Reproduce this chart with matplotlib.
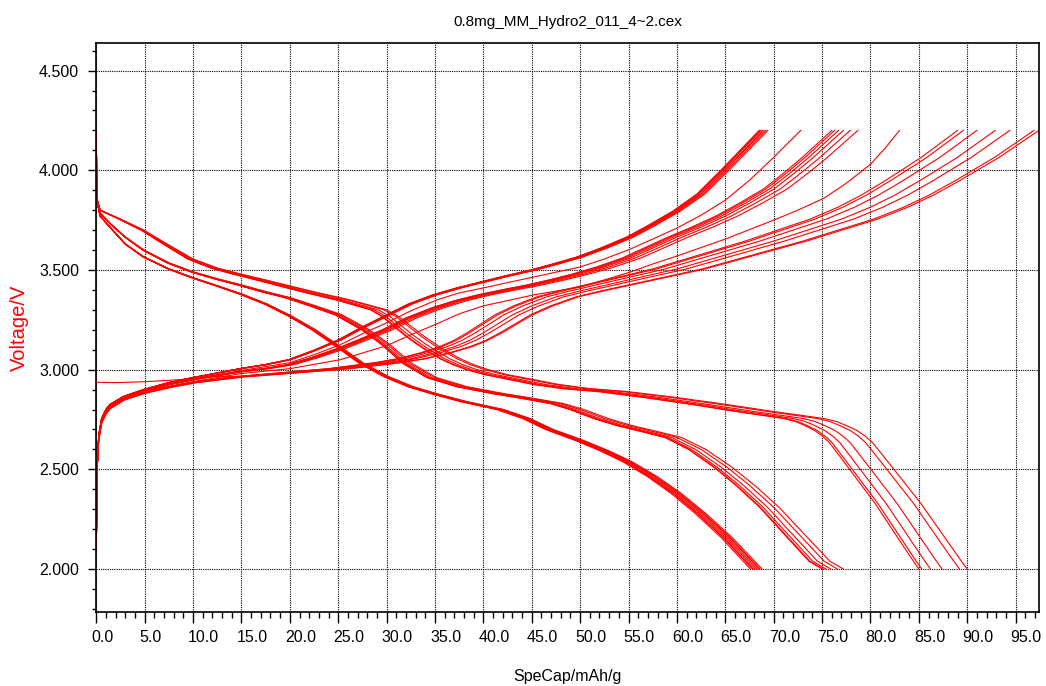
import numpy as np
import matplotlib
matplotlib.use('Agg')
import matplotlib.pyplot as plt
import matplotlib.transforms as mtransforms
from matplotlib.ticker import MultipleLocator, FormatStrFormatter

plt.rcParams['font.family'] = ['Liberation Sans', 'DejaVu Sans']

title = '0.8mg_MM_Hydro2_011_4~2.cex'
xticks = [0, 5, 10, 15, 20, 25, 30, 35, 40, 45, 50, 55, 60, 65, 70, 75, 80, 85, 90, 95]
yticks = [2.0, 2.5, 3.0, 3.5, 4.0, 4.5]

# discharge, slow rate group: shape of the last cycle, then end capacity of every cycle
dis_slow_cap = [0.0, 0.05, 0.4, 2.5, 4.9, 7.5, 10.0, 12.5, 14.9, 17.5, 20.0, 23.0, 26.2, 28.5, 30.0,
                31.3, 32.6, 33.8, 35.0, 36.3, 37.6, 39.0, 40.5, 42.5, 45.2, 47.9, 51.0, 54.9, 60.0,
                65.2, 70.0, 73.0, 75.2, 76.5, 77.5, 78.6, 79.5, 80.2, 81.2, 82.1, 85.2, 89.1, 90.0]
dis_slow_volt = [4.19, 3.86, 3.80, 3.755, 3.70, 3.625, 3.555, 3.51, 3.48, 3.45, 3.42, 3.385, 3.35, 3.32, 3.30,
                 3.265, 3.215, 3.17, 3.13, 3.09, 3.055, 3.025, 3.00, 2.975, 2.95, 2.925, 2.905, 2.89, 2.86,
                 2.825, 2.79, 2.77, 2.755, 2.74, 2.72, 2.695, 2.665, 2.635, 2.575, 2.52, 2.33, 2.06, 2.00]
dis_slow_ends = [85.0, 85.3, 86.2, 87.4, 89.2, 90.0]

# discharge, middle rate group
dis_mid_cap = [0.0, 0.05, 0.4, 1.5, 3.0, 4.9, 7.5, 10.0, 12.5, 14.9, 17.5, 20.0, 22.5, 25.2, 28.0,
               30.0, 32.4, 34.9, 38.0, 41.8, 45.0, 47.9, 50.0, 52.5, 54.9, 57.5, 60.0, 62.5, 65.2,
               67.5, 70.0, 72.5, 75.2, 76.6]
dis_mid_volt = [4.19, 3.85, 3.785, 3.73, 3.665, 3.60, 3.535, 3.49, 3.455, 3.425, 3.39, 3.36, 3.32, 3.275, 3.20,
                3.13, 3.03, 2.96, 2.915, 2.88, 2.855, 2.83, 2.80, 2.755, 2.72, 2.69, 2.66, 2.60, 2.51,
                2.42, 2.31, 2.18, 2.04, 2.00]
dis_mid_ends = [75.0, 75.1, 75.4, 75.9, 76.6, 77.2]

# discharge, fast rate group
dis_fast_cap = [0.0, 0.05, 0.4, 1.5, 3.0, 4.9, 7.5, 10.0, 12.5, 14.9, 17.5, 20.0, 22.5, 25.2, 27.5,
                30.0, 32.5, 34.9, 38.0, 41.8, 44.5, 46.9, 50.0, 52.5, 54.9, 57.5, 60.0, 62.5, 65.2, 68.3]
dis_fast_volt = [4.19, 3.85, 3.77, 3.71, 3.63, 3.565, 3.505, 3.46, 3.42, 3.38, 3.33, 3.27, 3.20, 3.11, 3.03,
                 2.965, 2.915, 2.88, 2.84, 2.80, 2.755, 2.70, 2.645, 2.595, 2.54, 2.465, 2.38, 2.28, 2.16, 2.00]
dis_fast_ends = [67.6, 67.8, 67.9, 68.1, 68.3, 68.5, 68.6, 68.8]

# charge, fast rate group
chg_fast_cap = [0.0, 0.08, 0.25, 0.55, 1.0, 1.4, 2.8, 4.9, 7.5, 10.0, 14.9, 17.5, 20.0, 22.5, 25.2,
                27.5, 30.0, 32.5, 35.0, 37.5, 40.0, 42.5, 45.2, 47.5, 50.0, 52.5, 55.2, 57.5, 60.0,
                62.5, 65.0, 67.0, 69.0]
chg_fast_volt = [2.10, 2.50, 2.67, 2.755, 2.80, 2.825, 2.865, 2.90, 2.935, 2.96, 3.005, 3.025, 3.05, 3.095, 3.15,
                 3.21, 3.27, 3.33, 3.375, 3.41, 3.44, 3.47, 3.50, 3.53, 3.565, 3.61, 3.665, 3.725, 3.795,
                 3.88, 4.00, 4.10, 4.20]
chg_fast_ends = [68.5, 68.6, 68.7, 68.9, 69.0, 69.2, 69.4]

# charge, middle rate group
chg_mid_cap = [0.0, 0.08, 0.25, 0.55, 1.0, 1.4, 2.8, 4.9, 7.5, 10.0, 14.9, 17.5, 20.0, 22.5, 25.2,
               27.5, 30.0, 32.5, 35.2, 37.5, 40.0, 42.5, 45.2, 47.5, 50.0, 52.5, 55.2, 57.5, 60.0,
               62.5, 65.0, 67.5, 70.0, 72.0, 74.0, 77.2]
chg_mid_volt = [2.10, 2.50, 2.66, 2.745, 2.79, 2.815, 2.858, 2.893, 2.925, 2.95, 2.99, 3.005, 3.025, 3.06, 3.105,
                3.15, 3.20, 3.26, 3.31, 3.345, 3.375, 3.40, 3.425, 3.45, 3.48, 3.515, 3.56, 3.61, 3.665,
                3.715, 3.77, 3.835, 3.905, 3.98, 4.06, 4.20]
chg_mid_ends = [76.0, 76.3, 76.7, 77.2, 77.9, 78.7]

# charge, slow rate group
chg_slow_cap = [0.0, 0.08, 0.25, 0.55, 1.0, 1.4, 2.8, 4.9, 7.5, 10.0, 14.9, 20.0, 25.0, 30.0, 32.5,
                35.0, 37.0, 38.5, 40.0, 41.5, 43.0, 45.0, 47.5, 50.0, 55.0, 60.0, 65.0, 70.0, 73.5,
                77.0, 80.0, 82.5, 85.0, 89.0, 92.9]
chg_slow_volt = [2.10, 2.50, 2.65, 2.735, 2.78, 2.805, 2.848, 2.882, 2.912, 2.935, 2.965, 2.985, 3.005, 3.035, 3.055,
                 3.085, 3.115, 3.145, 3.185, 3.23, 3.275, 3.32, 3.365, 3.395, 3.45, 3.505, 3.575, 3.645, 3.70,
                 3.755, 3.815, 3.875, 3.945, 4.065, 4.20]
chg_slow_ends = [89.0, 89.6, 91.0, 92.9, 94.4, 96.9, 97.4]

# first charge starts from open circuit voltage
first_cap = [0.0, 2.0, 5.2, 8.0, 10.0, 12.0]
first_volt = [2.937, 2.935, 2.94, 2.948, 2.955, 2.965]

# two single cycles between the groups
single1_cap = [0.0, 0.08, 0.25, 0.55, 1.0, 1.4, 2.8, 4.9, 7.5, 10.0, 14.9, 20.0, 22.5, 25.2, 27.5,
               30.0, 32.5, 35.2, 37.5, 40.0, 45.2, 50.0, 52.5, 55.2, 57.5, 60.0, 62.5, 65.0, 67.5,
               70.0, 72.8]
single1_volt = [2.10, 2.50, 2.66, 2.75, 2.795, 2.825, 2.865, 2.90, 2.93, 2.955, 2.995, 3.035, 3.075, 3.125, 3.18,
                3.235, 3.295, 3.35, 3.385, 3.41, 3.465, 3.515, 3.555, 3.605, 3.655, 3.71, 3.775, 3.85, 3.95,
                4.065, 4.20]
single2_cap = [0.0, 0.08, 0.25, 0.55, 1.0, 1.4, 2.8, 4.9, 7.5, 10.0, 14.9, 20.0, 25.2, 30.0, 32.5,
               35.2, 37.5, 40.0, 45.2, 50.0, 52.5, 55.2, 57.5, 60.0, 65.0, 70.0, 72.5, 75.2, 77.5,
               80.0, 81.5, 83.0]
single2_volt = [2.10, 2.50, 2.66, 2.74, 2.785, 2.815, 2.855, 2.89, 2.915, 2.94, 2.98, 3.005, 3.05, 3.12, 3.175,
                3.23, 3.28, 3.32, 3.375, 3.415, 3.45, 3.49, 3.53, 3.57, 3.655, 3.75, 3.80, 3.86, 3.935,
                4.03, 4.11, 4.20]

fig = plt.figure(figsize=(10.46, 6.86), dpi=100)
ax = fig.add_axes([0.0916, 0.1074, 0.902, 0.8304])

red = '#ff0000'
lw = 0.8


def draw_group(cap, volt, ends):
    cap = np.array(cap)
    for e in ends:
        ax.plot(cap * e / cap[-1], volt, color=red, lw=lw)


draw_group(dis_slow_cap, dis_slow_volt, dis_slow_ends)
draw_group(dis_mid_cap, dis_mid_volt, dis_mid_ends)
draw_group(dis_fast_cap, dis_fast_volt, dis_fast_ends)
draw_group(chg_fast_cap, chg_fast_volt, chg_fast_ends)
draw_group(chg_mid_cap, chg_mid_volt, chg_mid_ends)
draw_group(chg_slow_cap, chg_slow_volt, chg_slow_ends[:-1])

# first charge: OCV start joined to the slow-rate shape
c = np.array(chg_slow_cap) * chg_slow_ends[-1] / chg_slow_cap[-1]
v = np.array(chg_slow_volt)
keep = c > first_cap[-1]
ax.plot(np.concatenate([first_cap, c[keep]]), np.concatenate([first_volt, v[keep]]), color=red, lw=lw)

ax.plot(single1_cap, single1_volt, color=red, lw=lw)
ax.plot(single2_cap, single2_volt, color=red, lw=lw)

ax.set_xlim(-0.05, 97.45)
ax.set_ylim(1.783, 4.640)
ax.set_xticks(xticks)
ax.set_yticks(yticks)
ax.xaxis.set_major_formatter(FormatStrFormatter('%.1f'))
ax.yaxis.set_major_formatter(FormatStrFormatter('%.3f'))
ax.xaxis.set_minor_locator(MultipleLocator(1))
ax.yaxis.set_minor_locator(MultipleLocator(0.1))
ax.tick_params(axis='x', which='major', direction='out', length=8, width=1, labelsize=11.5, pad=5)
ax.tick_params(axis='x', which='minor', direction='out', length=4, width=1)
ax.tick_params(axis='y', which='major', direction='out', length=6, width=1, labelsize=11.5, pad=6)
ax.tick_params(axis='y', which='minor', direction='out', length=3, width=1)
ax.grid(True, which='major', color='black', linestyle=(0, (1, 1)), linewidth=0.8)
ax.set_axisbelow(True)
for s in ax.spines.values():
    s.set_linewidth(1.2)

ax.set_title(title, fontsize=11, pad=12)
ax.set_xlabel('SpeCap/mAh/g', fontsize=11.5)
ax.xaxis.set_label_coords(0.5, -0.100)
ax.set_ylabel('Voltage/V', fontsize=14.5, color=red)
ax.yaxis.set_label_coords(-0.071, 0.5)

# x tick labels sit left-aligned, a few pixels left of the tick
shift = mtransforms.ScaledTranslation(-0.05, 0, fig.dpi_scale_trans)
for lab in ax.get_xticklabels():
    lab.set_horizontalalignment('left')
    lab.set_transform(lab.get_transform() + shift)

fig.savefig('out.png', dpi=100)
